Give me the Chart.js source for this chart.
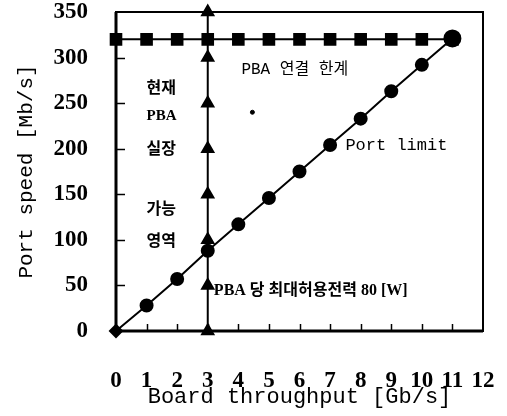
<!DOCTYPE html>
<html>
<head>
<meta charset="utf-8">
<script src="https://cdn.jsdelivr.net/npm/chart.js@4/dist/chart.umd.min.js"></script>
<style>
  html, body { margin: 0; padding: 0; background: #fff; }
  #wrap { width: 507px; height: 416px; position: relative; }
</style>
</head>
<body>
<div id="wrap"><canvas id="c"></canvas></div>
<script>
// Board throughput [Gb/s] at each marker
const boardThroughput = [0, 1, 2, 3, 4, 5, 6, 7, 8, 9, 10, 11];
// Port limit curve: port speed [Mb/s]
const portLimit = [0, 28, 57, 88, 117, 146, 175, 204, 233, 263, 292, 321];
// PBA link limit: constant port speed [Mb/s]
const pbaLinkLimit = [320, 320, 320, 320, 320, 320, 320, 320, 320, 320, 320, 320];
// Power limit per PBA (80 W): vertical boundary at 3 Gb/s
const powerLimitThroughput = 3;
const powerLimitSpeeds = [0, 50, 100, 150, 200, 250, 300, 350];
// Isolated dot inside the region
const strayDot = { x: 4.46, y: 240 };

// Axis ticks
const xTicks = [0, 1, 2, 3, 4, 5, 6, 7, 8, 9, 10, 11, 12];
const yTicks = [0, 50, 100, 150, 200, 250, 300, 350];

// Text labels placed in data units
const notes = [
  { text: '현재', x: 1.0, y: 268, font: 'bold 16px "Noto Sans CJK KR"' },
  { text: 'PBA', x: 1.0, y: 236, font: 'bold 15px "Liberation Serif"' },
  { text: '실장', x: 1.0, y: 201, font: 'bold 16px "Noto Sans CJK KR"' },
  { text: '가능', x: 1.0, y: 135, font: 'bold 16px "Noto Sans CJK KR"' },
  { text: '영역', x: 1.0, y: 100, font: 'bold 16px "Noto Sans CJK KR"' },
  { text: 'PBA 연결 한계', x: 4.1, y: 287, font: '16px "Liberation Mono", "Noto Sans CJK KR"' },
  { text: 'Port limit', x: 7.5, y: 203, font: '17px "Liberation Mono"' },
  { text: 'PBA 당 최대허용전력 80 [W]', x: 3.2, y: 44, font: 'bold 16px "Liberation Serif", "Noto Sans CJK KR"' }
];

const pts = (xs, ys) => xs.map((x, i) => ({ x: x, y: ys[i] }));

const frameAndNotes = {
  id: 'frameAndNotes',
  afterDatasetsDraw(chart) {
    const { ctx, chartArea: a, scales: { x, y } } = chart;
    ctx.save();
    ctx.strokeStyle = '#000';
    // inward tick marks
    ctx.lineWidth = 1.5;
    yTicks.forEach(v => {
      if (v === 0 || v === 350) return;
      const py = Math.round(y.getPixelForValue(v)) + 0.5;
      ctx.beginPath(); ctx.moveTo(a.left, py); ctx.lineTo(a.left + 9, py); ctx.stroke();
    });
    xTicks.forEach(v => {
      if (v === 0 || v === 12) return;
      const px = Math.round(x.getPixelForValue(v)) + 0.5;
      ctx.beginPath(); ctx.moveTo(px, a.bottom); ctx.lineTo(px, a.bottom - 7); ctx.stroke();
    });
    // plot frame
    ctx.lineWidth = 2;
    ctx.strokeRect(a.left, a.top, a.right - a.left, a.bottom - a.top);
    ctx.lineWidth = 3;
    ctx.beginPath();
    ctx.moveTo(a.left, a.top); ctx.lineTo(a.left, a.bottom); ctx.lineTo(a.right, a.bottom);
    ctx.stroke();
    // text labels
    ctx.fillStyle = '#000';
    ctx.textAlign = 'left';
    ctx.textBaseline = 'middle';
    notes.forEach(n => {
      ctx.font = n.font;
      ctx.fillText(n.text, x.getPixelForValue(n.x), y.getPixelForValue(n.y));
    });
    ctx.restore();
  }
};

const tickFont = { family: '"Liberation Serif"', size: 23, weight: 'bold' };

new Chart(document.getElementById('c'), {
  type: 'scatter',
  data: {
    datasets: [
      {
        label: 'PBA 연결 한계',
        data: pts(boardThroughput, pbaLinkLimit),
        showLine: true,
        borderColor: '#000',
        backgroundColor: '#000',
        borderWidth: 2,
        pointStyle: 'rect',
        pointRadius: 7.5,
        pointHoverRadius: 7.5,
        clip: false
      },
      {
        label: 'PBA 당 최대허용전력 80 [W]',
        data: powerLimitSpeeds.map(v => ({ x: powerLimitThroughput, y: v })),
        showLine: true,
        borderColor: '#000',
        backgroundColor: '#000',
        borderWidth: 2,
        pointStyle: 'triangle',
        pointRadius: 6.5,
        pointHoverRadius: 6.5,
        clip: false
      },
      {
        label: 'Port limit',
        data: pts(boardThroughput, portLimit),
        showLine: true,
        borderColor: '#000',
        backgroundColor: '#000',
        borderWidth: 2,
        pointStyle: boardThroughput.map((_, i) => i === 0 ? 'rectRot' : 'circle'),
        pointRadius: boardThroughput.map((_, i) => i === boardThroughput.length - 1 ? 8 : 6),
        clip: false
      },
      {
        label: 'dot',
        data: [strayDot],
        backgroundColor: '#000',
        borderColor: '#000',
        pointRadius: 2
      }
    ]
  },
  options: {
    responsive: true,
    maintainAspectRatio: false,
    animation: false,
    events: [],
    layout: { padding: { top: 12, right: 24, bottom: 0, left: 0 } },
    plugins: {
      legend: { display: false },
      tooltip: { enabled: false }
    },
    scales: {
      x: {
        type: 'linear',
        min: 0,
        max: 12,
        afterBuildTicks: s => { s.ticks = xTicks.map(v => ({ value: v })); },
        afterFit: s => { s.height = 85; s.paddingLeft = 0; s.paddingRight = 0; },
        grid: { display: false, drawTicks: false },
        border: { display: false },
        ticks: { color: '#000', font: tickFont, padding: 36, maxRotation: 0, autoSkip: false },
        title: {
          display: true,
          text: 'Board throughput [Gb/s]',
          color: '#000',
          font: { family: '"Liberation Mono"', size: 22 },
          padding: { top: 0, bottom: 6 }
        }
      },
      y: {
        type: 'linear',
        min: 0,
        max: 350,
        afterBuildTicks: s => { s.ticks = yTicks.map(v => ({ value: v })); },
        afterFit: s => { s.width = 116; s.paddingTop = 0; s.paddingBottom = 0; },
        grid: { display: false, drawTicks: false },
        border: { display: false },
        ticks: { color: '#000', font: tickFont, padding: 28 },
        title: {
          display: true,
          text: 'Port speed [Mb/s]',
          color: '#000',
          font: { family: '"Liberation Mono"', size: 21 },
          padding: { top: 14, bottom: 0 }
        }
      }
    }
  },
  plugins: [frameAndNotes]
});
</script>
</body>
</html>
